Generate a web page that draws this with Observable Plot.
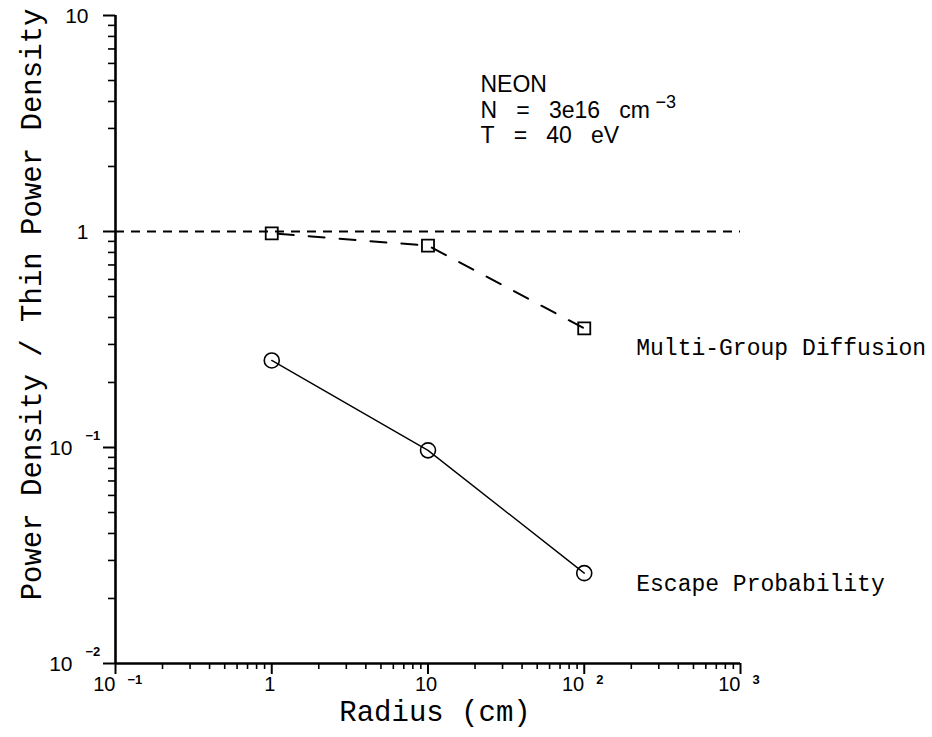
<!DOCTYPE html>
<html><head><meta charset="utf-8">
<script src="https://cdn.jsdelivr.net/npm/d3@7"></script>
<script src="https://cdn.jsdelivr.net/npm/@observablehq/plot@0.6"></script>
<style>
html,body{margin:0;padding:0;background:#fff;}
#chart svg{display:block;}
</style>
</head><body><div id="chart"></div>
<script>
// ---- data ----
const radius = [1, 10, 100];
const multiGroupDiffusion = [0.98, 0.86, 0.356];
const escapeProbability = [0.253, 0.097, 0.0262];
const seriesNames = ["Multi-Group Diffusion", "Escape Probability"];
const thinReference = [1];
const xTickValues = [0.1, 1, 10, 100, 1000];
const xTickBases = ["10", "1", "10", "10", "10"];
const xTickExponents = ["\u22121", "", "", "2", "3"];
const yTickValues = [0.01, 0.1, 1, 10];
const yTickBases = ["10", "10", "1", "10"];
const yTickExponents = ["\u22122", "\u22121", "", ""];
const S3 = "\u00a0\u00a0\u00a0";
const annotationLines = ["NEON", "N" + S3 + "=" + S3 + "3e16" + S3 + "cm", "T" + S3 + "=" + S3 + "40" + S3 + "eV"];
const annotationExponent = "\u22123";
const xLabel = "Radius (cm)";
const yLabel = "Power Density / Thin Power Density";

// ---- tables ----
const mg = radius.map((r, i) => ({r, v: multiGroupDiffusion[i]}));
const ep = radius.map((r, i) => ({r, v: escapeProbability[i]}));
const xTicks = xTickValues.map((v, i) => ({v, base: xTickBases[i], exp: xTickExponents[i]}));
const yTicks = yTickValues.map((v, i) => ({v, base: yTickBases[i], exp: yTickExponents[i]}));
const minor = (lo, hi) => { const out = []; for (let e = lo; e < hi; e++) for (let m = 2; m <= 9; m++) out.push(m * Math.pow(10, e)); return out; };
const minorX = minor(-1, 3), minorY = minor(-2, 1);

const MONO = "Liberation Mono, DejaVu Sans Mono, monospace";
const SANS = "Liberation Sans, Arial, sans-serif";

const plot = Plot.plot({
  width: 932, height: 737,
  marginLeft: 115, marginRight: 192, marginTop: 15, marginBottom: 74,
  x: {type: "log", domain: [0.1, 1000]},
  y: {type: "log", domain: [0.01, 10]},
  style: {background: "#fff", color: "#000"},
  marks: [
    // axes
    Plot.axisX({ticks: xTickValues, tickSize: 11, tickFormat: () => "", strokeWidth: 2, label: null}),
    Plot.axisX({ticks: minorX, tickSize: 6, tickFormat: () => "", strokeWidth: 1.6, label: null}),
    Plot.axisY({ticks: yTickValues, tickSize: 12, tickFormat: () => "", strokeWidth: 2, label: null}),
    Plot.axisY({ticks: minorY, tickSize: 7, tickFormat: () => "", strokeWidth: 1.6, label: null}),
    Plot.ruleY([0.01], {strokeWidth: 2.6}),
    Plot.ruleX([0.1], {strokeWidth: 2.6}),
    // tick labels x
    Plot.text(xTicks.filter(d => d.exp), {x: "v", text: "base", frameAnchor: "bottom", textAnchor: "end", dy: 27, fontSize: 20, fontFamily: SANS}),
    Plot.text(xTicks.filter(d => !d.exp), {x: "v", text: "base", frameAnchor: "bottom", textAnchor: "middle", dx: -2, dy: 27, fontSize: 20, fontFamily: SANS}),
    Plot.text(xTicks.filter(d => d.exp), {x: "v", text: "exp", frameAnchor: "bottom", textAnchor: "start", dx: 12, dy: 20, fontSize: 13, fontWeight: "bold", fontFamily: SANS}),
    // tick labels y
    Plot.text(yTicks.filter(d => d.exp), {y: "v", text: "base", frameAnchor: "left", textAnchor: "end", dx: -43, dy: 1, fontSize: 21, fontFamily: SANS}),
    Plot.text(yTicks.filter(d => !d.exp), {y: "v", text: "base", frameAnchor: "left", textAnchor: "end", dx: -27, dy: 1, fontSize: 21, fontFamily: SANS}),
    Plot.text(yTicks.filter(d => d.exp), {y: "v", text: "exp", frameAnchor: "left", textAnchor: "start", dx: -30, dy: -12, fontSize: 13, fontWeight: "bold", fontFamily: SANS}),
    // axis labels
    Plot.text([xLabel], {text: d => d, frameAnchor: "bottom", textAnchor: "middle", dx: 7, dy: 57, fontSize: 29, fontFamily: MONO}),
    Plot.text([yLabel], {text: d => d, frameAnchor: "left", textAnchor: "middle", rotate: -90, dx: -84, dy: -35, fontSize: 29, fontFamily: MONO}),
    // reference line (thin power density)
    Plot.ruleY(thinReference, {strokeWidth: 2, strokeDasharray: "9,7"}),
    // series
    Plot.line(mg, {x: "r", y: "v", strokeWidth: 2, strokeDasharray: "16,15", strokeDashoffset: -6}),
    Plot.dot(mg, {x: "r", y: "v", symbol: "square", r: 6.8, stroke: "#000", strokeWidth: 1.8, fill: "none"}),
    Plot.line(ep, {x: "r", y: "v", strokeWidth: 1.4}),
    Plot.dot(ep, {x: "r", y: "v", symbol: "circle", r: 7.5, stroke: "#000", strokeWidth: 1.6, fill: "none"}),
    // series labels, anchored to last point
    Plot.text([mg[mg.length - 1]], {x: "r", y: "v", text: () => seriesNames[0], textAnchor: "start", dx: 52, dy: 19, fontSize: 23, fontFamily: MONO}),
    Plot.text([ep[ep.length - 1]], {x: "r", y: "v", text: () => seriesNames[1], textAnchor: "start", dx: 52, dy: 10, fontSize: 23, fontFamily: MONO}),
    // annotation
    Plot.text([annotationLines.join("\n")], {text: d => d, frameAnchor: "top-left", textAnchor: "start", lineAnchor: "top", dx: 365, dy: 58, fontSize: 23, lineHeight: 1.12, fontFamily: SANS}),
    Plot.text([annotationExponent], {text: d => d, frameAnchor: "top-left", textAnchor: "start", lineAnchor: "middle", dx: 540, dy: 87, fontSize: 18, fontFamily: SANS})
  ]
});
document.getElementById("chart").appendChild(plot);
</script>
</body></html>
